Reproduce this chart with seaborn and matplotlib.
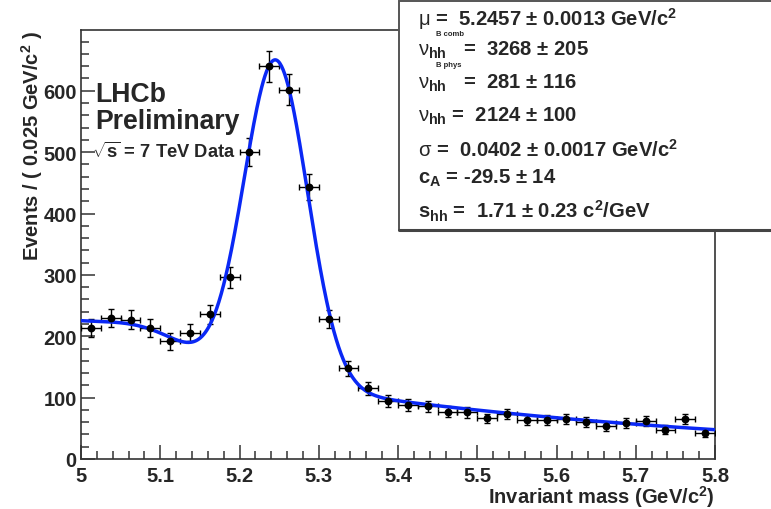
import numpy as np
import matplotlib
matplotlib.use("Agg")
import matplotlib.pyplot as plt
import seaborn as sns
from matplotlib.patches import Rectangle
from matplotlib.lines import Line2D
from matplotlib.ticker import MultipleLocator

# ---- data: invariant-mass histogram (0.025 GeV/c^2 bins from 5.0 to 5.8) ----
BIN_WIDTH = 0.025
MASS_LO, MASS_HI = 5.0, 5.8
bin_centres = np.arange(MASS_LO + BIN_WIDTH / 2, MASS_HI, BIN_WIDTH)
counts = np.array([214, 230, 227, 214, 192, 206, 236, 296, 500, 640, 602, 443,
                   228, 148, 115, 95, 88, 86, 77, 76, 66, 73, 64, 64,
                   65, 60, 53, 59, 62, 48, 65, 42])
count_err = np.sqrt(counts)  # Poisson errors

# ---- fit result ----
mu, sigma = 5.2457, 0.0402
n_sig = 2124          # nu_hh
n_comb = 3268         # nu_hh^{B comb}
n_phys = 281          # nu_hh^{B phys}
c_argus = -29.5       # c_A
slope = 1.71          # s_hh
argus_endpoint = 5.14


def fit_model(m):
    """Signal Gaussian + exponential combinatorial + smeared ARGUS, in events per bin."""
    fine = np.linspace(4.6, 6.2, 3201)
    step = fine[1] - fine[0]
    x2 = (fine / argus_endpoint) ** 2
    argus = np.where(fine < argus_endpoint,
                     fine * np.sqrt(np.clip(1 - x2, 0, None)) * np.exp(c_argus * (1 - x2)), 0.0)
    k = np.arange(-300, 301) * step
    kernel = np.exp(-0.5 * (k / sigma) ** 2)
    smeared = np.convolve(argus, kernel / kernel.sum(), mode="same")
    inside = (fine >= MASS_LO) & (fine <= MASS_HI)
    smeared /= np.trapezoid(smeared[inside], fine[inside])
    phys = np.interp(m, fine, smeared)

    comb = slope * np.exp(-slope * (m - MASS_LO)) / (1 - np.exp(-slope * (MASS_HI - MASS_LO)))
    sig = np.exp(-0.5 * ((m - mu) / sigma) ** 2) / (sigma * np.sqrt(2 * np.pi))
    return BIN_WIDTH * (n_sig * sig + n_comb * comb + n_phys * phys)


mass_grid = np.linspace(MASS_LO, MASS_HI, 801)
fit_curve = fit_model(mass_grid)

# ---- styling ----
sns.set_theme(style="ticks")
plt.rcParams["font.family"] = ["Liberation Sans", "DejaVu Sans"]
plt.rcParams["mathtext.fontset"] = "custom"
plt.rcParams["mathtext.rm"] = "Liberation Sans"
plt.rcParams["mathtext.bf"] = "Liberation Sans:bold"
plt.rcParams["mathtext.it"] = "Liberation Sans:italic"
plt.rcParams["mathtext.sf"] = "Liberation Sans"

W, H = 771, 510
fig = plt.figure(figsize=(W / 100, H / 100), dpi=100)
fig.patch.set_facecolor("white")
ax = fig.add_axes([81 / W, 1 - 460 / H, (715 - 81) / W, (460 - 31) / H])
ax.set_facecolor("white")

ax.errorbar(bin_centres, counts, xerr=BIN_WIDTH / 2, yerr=count_err, fmt="none",
            ecolor="black", elinewidth=1.0, capsize=2.2, capthick=1.0, zorder=3)
sns.lineplot(x=mass_grid, y=fit_curve, ax=ax, color="#0a28f5", linewidth=2.5, zorder=4)
sns.scatterplot(x=bin_centres, y=counts, ax=ax, color="black", s=32,
                edgecolor="black", linewidth=0, zorder=5)

ax.set_xlim(MASS_LO, MASS_HI)
ax.set_ylim(0, 699)
ax.xaxis.set_minor_locator(MultipleLocator(0.02))
ax.yaxis.set_major_locator(MultipleLocator(100))
ax.yaxis.set_minor_locator(MultipleLocator(20))
ax.set_xticks(np.round(np.arange(5.0, 5.81, 0.1), 1))
ax.set_xticklabels(["5", "5.1", "5.2", "5.3", "5.4", "5.5", "5.6", "5.7", "5.8"])

ax.tick_params(which="major", direction="in", length=10, width=1.1, color="#333333",
               labelsize=14.5, top=False, right=False)
ax.tick_params(which="minor", direction="in", length=5.5, width=1.1, color="#333333",
               top=False, right=False)
ax.tick_params(axis="x", pad=5)
ax.tick_params(axis="y", pad=3)
for lab in ax.get_xticklabels() + ax.get_yticklabels():
    lab.set_fontweight("bold")
for sp in ax.spines.values():
    sp.set_visible(True)
    sp.set_linewidth(1.2)
    sp.set_color("#333333")

ax.set_xlabel("Invariant mass (GeV/c$^{\\mathbf{2}}$)", fontsize=14.5, fontweight="bold",
              loc="right", labelpad=-1)
ax.set_ylabel("Events / ( 0.025 GeV/c$^{\\mathbf{2}}$ )", fontsize=14.5, fontweight="bold",
              loc="top", labelpad=-1)


def fpix(x, y):
    """Figure fraction from pixel position measured from the top-left corner."""
    return x / W, 1 - y / H


# ---- experiment label ----
fig.text(*fpix(95, 102), "LHCb", fontsize=19.2, fontweight="bold", va="baseline")
fig.text(*fpix(95, 129), "Preliminary", fontsize=19.2, fontweight="bold", va="baseline")
fig.text(*fpix(92, 158), r"$\sqrt{\mathbf{s}}$ = 7 TeV Data",
         fontsize=13.2, fontweight="bold", va="baseline")

# ---- fit-parameter box ----
box = Rectangle(fpix(399, 231), (W + 5 - 399) / W, (231 - 2) / H, transform=fig.transFigure,
                facecolor="white", edgecolor="#555555", linewidth=1.4, zorder=10)
fig.patches.append(box)
fig.lines.append(Line2D([399 / W, 1], [1 - 231 / H] * 2, transform=fig.transFigure,
                        color="#444444", linewidth=2.2, zorder=11))

stat_lines = [
    (26, r"$\mathrm{\mu}$ =  5.2457 ± 0.0013 GeV/c$^{\mathbf{2}}$"),
    (56, r"$\mathrm{\nu}_{\mathbf{hh}}$   =  3268 ± 205"),
    (89, r"$\mathrm{\nu}_{\mathbf{hh}}$   =  281 ± 116"),
    (122, r"$\mathrm{\nu}_{\mathbf{hh}}$ =  2124 ± 100"),
    (157, r"$\mathrm{\sigma}$ =  0.0402 ± 0.0017 GeV/c$^{\mathbf{2}}$"),
    (184, r"c$_{\mathbf{A}}$ = -29.5 ± 14"),
    (218, r"s$_{\mathbf{hh}}$ =  1.71 ± 0.23 c$^{\mathbf{2}}$/GeV"),
]
for y, s in stat_lines:
    fig.text(*fpix(418, y), s, fontsize=14.6, fontweight="bold", va="baseline", ha="left",
             zorder=12)

for y, s in [(36, "B comb"), (67, "B phys")]:
    fig.text(*fpix(436, y), s, fontsize=5.5, fontweight="bold", va="baseline", ha="left",
             zorder=12)

fig.savefig("out.png", dpi=100, facecolor="white")
